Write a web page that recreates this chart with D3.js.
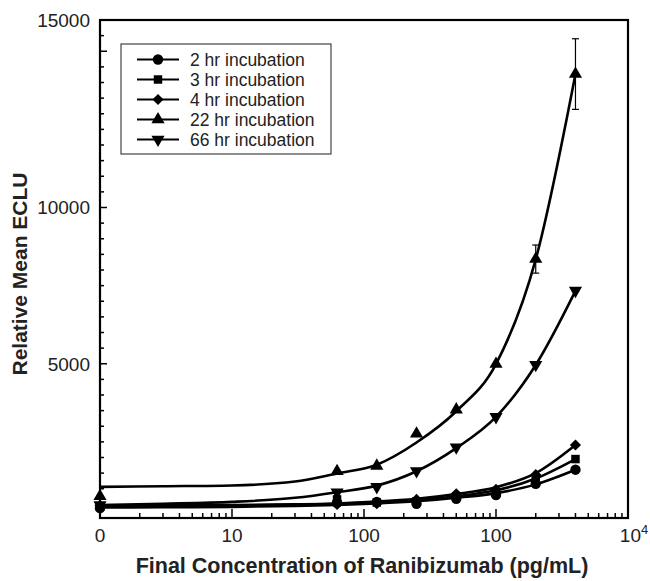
<!DOCTYPE html>
<html>
<head>
<script src="https://cdn.jsdelivr.net/npm/d3@7"></script>
<style>
  body { margin: 0; background: #fff; }
  text { font-family: "Liberation Sans", Arial, sans-serif; fill: #222; }
</style>
</head>
<body>
<svg width="650" height="581"></svg>
<script>
// measured points, concentration in pg/mL (0 = blank, sits on the left edge)
var conc = [0, 62.5, 125, 250, 500, 1000, 2000, 4000];
var hr2  = [380, 560, 580, 520, 680, 800, 1160, 1610];
var hr3  = [430, 660, 560, 600, 760, 880, 1320, 1950];
var hr4  = [470, 500, 520, 660, 840, 980, 1450, 2400];
var hr22 = [760, 1560, 1730, 2760, 3530, 4990, 8350, 14270];
var hr66 = [480, 890, 1060, 1570, 2330, 3300, 4970, 7340];
var err22 = [0, 0, 0, 0, 0, 0, 450, 1130];

// fitted curves
var fitConc = [1, 3, 10, 30, 62.5, 125, 250, 500, 1000, 2000, 4000];
var fit2  = [400, 410, 420, 450, 480, 530, 600, 710, 860, 1140, 1610];
var fit3  = [440, 450, 460, 490, 520, 570, 640, 760, 950, 1330, 1950];
var fit4  = [460, 465, 475, 500, 530, 590, 680, 830, 1050, 1500, 2400];
var fit22 = [1060, 1080, 1105, 1230, 1490, 1770, 2480, 3480, 4990, 8340, 14270];
var fit66 = [480, 520, 580, 710, 890, 1100, 1560, 2300, 3300, 4960, 7330];

var names = ["2 hr incubation", "3 hr incubation", "4 hr incubation", "22 hr incubation", "66 hr incubation"];
var symbols = ["circle", "square", "diamond", "up", "down"];

var xTickValues = [1, 10, 100, 1000, 10000];
var xTickLabels = ["0", "10", "100", "100", "10"];
var yLabelValues = [5000, 10000, 16000];
var yLabelText = ["5000", "10000", "15000"];

var series = [
  {pts: hr2, fit: fit2}, {pts: hr3, fit: fit3}, {pts: hr4, fit: fit4},
  {pts: hr22, fit: fit22, err: err22}, {pts: hr66, fit: fit66}
];

var padL = 100, padR = 628, padT = 20, padB = 518;
var svg = d3.select("svg");

var x = d3.scaleLog().domain([1, 10000]).range([padL, padR]);
var y = d3.scaleLinear().domain([0, 16000]).range([padB + 2, padT]);
var xPos = function(c) { return x(Math.max(c, 1)); };

function marker(g, kind, cx, cy) {
  var sym, size, rot = 0;
  if (kind == "circle") { sym = d3.symbolCircle; size = 85; }
  else if (kind == "square") { sym = d3.symbolSquare; size = 72; }
  else if (kind == "diamond") { sym = d3.symbolSquare; size = 62; rot = 45; }
  else { sym = d3.symbolTriangle; size = 75; if (kind == "down") rot = 180; }
  g.append("path")
    .attr("d", d3.symbol().type(sym).size(size)())
    .attr("transform", "translate(" + cx + "," + cy + ") rotate(" + rot + ")")
    .attr("fill", "#000");
}

// curves
var line = d3.line()
  .x(function(d) { return xPos(d[0]); })
  .y(function(d) { return y(d[1]); })
  .curve(d3.curveMonotoneX);

series.forEach(function(s) {
  svg.append("path")
    .datum(fitConc.map(function(c, i) { return [c, s.fit[i]]; }))
    .attr("d", line)
    .attr("fill", "none")
    .attr("stroke", "#000")
    .attr("stroke-width", 2.6);
});

// error bars
series.forEach(function(s) {
  if (!s.err) return;
  conc.forEach(function(c, i) {
    if (!s.err[i]) return;
    var cx = xPos(c), y1 = y(s.pts[i] + s.err[i]), y2 = y(s.pts[i] - s.err[i]);
    svg.append("line").attr("x1", cx).attr("x2", cx).attr("y1", y1).attr("y2", y2)
      .attr("stroke", "#000").attr("stroke-width", 1.2);
    [y1, y2].forEach(function(yy) {
      svg.append("line").attr("x1", cx - 3.5).attr("x2", cx + 3.5).attr("y1", yy).attr("y2", yy)
        .attr("stroke", "#000").attr("stroke-width", 1.2);
    });
  });
});

// markers
var mk = svg.append("g");
series.forEach(function(s, k) {
  conc.forEach(function(c, i) {
    marker(mk, symbols[k], xPos(c), y(s.pts[i]));
  });
});

// frame
svg.append("rect")
  .attr("x", padL).attr("y", padT)
  .attr("width", padR - padL).attr("height", padB - padT)
  .attr("fill", "none").attr("stroke", "#000").attr("stroke-width", 2.2);

// y ticks, pointing inside
var yMinor = d3.range(500, 16000, 500);
svg.append("g").selectAll("line").data(yMinor).enter().append("line")
  .attr("x1", padL).attr("x2", function(d) { return d % 5000 == 0 ? padL + 7 : padL + 4; })
  .attr("y1", function(d) { return y(d); }).attr("y2", function(d) { return y(d); })
  .attr("stroke", "#000").attr("stroke-width", 1.5);

svg.append("g").selectAll("text").data(yLabelValues).enter().append("text")
  .attr("x", 90).attr("y", function(d) { return y(d); })
  .attr("dy", "0.36em")
  .attr("text-anchor", "end")
  .style("font-size", "19px")
  .text(function(d, i) { return yLabelText[i]; });

// x ticks, log minor ticks
var xMinor = [];
for (var e = 0; e < 4; e++) for (var m = 2; m <= 9; m++) xMinor.push(m * Math.pow(10, e));
svg.append("g").selectAll("line").data(xMinor).enter().append("line")
  .attr("x1", function(d) { return x(d); }).attr("x2", function(d) { return x(d); })
  .attr("y1", padB).attr("y2", padB - 5)
  .attr("stroke", "#000").attr("stroke-width", 1.5);
svg.append("g").selectAll("line").data(xTickValues).enter().append("line")
  .attr("x1", function(d) { return x(d); }).attr("x2", function(d) { return x(d); })
  .attr("y1", padB).attr("y2", padB - 9)
  .attr("stroke", "#000").attr("stroke-width", 1.5);

var xl = svg.append("g").selectAll("text").data(xTickValues).enter().append("text")
  .attr("x", function(d) { return x(d); })
  .attr("y", 542)
  .attr("text-anchor", "middle")
  .style("font-size", "19px")
  .text(function(d, i) { return xTickLabels[i]; });
xl.filter(function(d) { return d == 10000; })
  .attr("dx", 6)
  .append("tspan").attr("dy", "-0.6em").style("font-size", "13px").text("4");

// axis titles
svg.append("text")
  .attr("x", 362).attr("y", 573)
  .attr("text-anchor", "middle")
  .style("font-size", "21.5px").style("font-weight", "bold")
  .text("Final Concentration of Ranibizumab (pg/mL)");

svg.append("text")
  .attr("transform", "translate(27,274) rotate(-90)")
  .attr("text-anchor", "middle")
  .style("font-size", "21px").style("font-weight", "bold")
  .text("Relative Mean ECLU");

// legend
var lg = svg.append("g");
lg.append("rect").attr("x", 121).attr("y", 44).attr("width", 210).attr("height", 110)
  .attr("fill", "#fff").attr("stroke", "#444").attr("stroke-width", 1.2);
names.forEach(function(n, i) {
  var ly = 59.5 + i * 20;
  lg.append("line").attr("x1", 137).attr("x2", 179).attr("y1", ly).attr("y2", ly)
    .attr("stroke", "#000").attr("stroke-width", 2);
  marker(lg, symbols[i], 158, ly);
  lg.append("text").attr("x", 190).attr("y", ly).attr("dy", "0.36em")
    .style("font-size", "17.5px").text(n);
});
</script>
</body>
</html>
